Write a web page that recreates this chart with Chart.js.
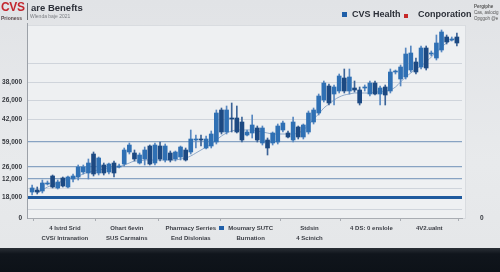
<!DOCTYPE html>
<html>
<head>
<meta charset="utf-8">
<script src="https://cdn.jsdelivr.net/npm/chart.js@4.4.1/dist/chart.umd.min.js"></script>
<style>
  html, body { margin: 0; padding: 0; }
  body {
    width: 500px; height: 272px; overflow: hidden; position: relative;
    background: linear-gradient(#e1e3e6, #e8eaec 60%, #e4e6e8);
    font-family: "Liberation Sans", Arial, sans-serif;
  }
  #wrap { position: absolute; left: 0; top: 0; width: 500px; height: 248px; }
  .band { position: absolute; left: 0; top: 248px; width: 500px; height: 24px;
    background: linear-gradient(#2a2f36, #10151c 25%, #0d1218); }
  .t { position: absolute; white-space: nowrap; font-weight: bold; }
  .sq { position: absolute; }
</style>
</head>
<body>
<div id="wrap"><canvas id="candleChart"></canvas></div>
<div class="band"></div>

<!-- header -->
<div class="t" style="left:1px;top:0px;font-size:12px;color:#c3262e;letter-spacing:-0.3px">CVS</div>
<div class="sq" style="left:27px;top:3px;width:1px;height:17px;background:#6b6f76"></div>
<div class="t" style="left:31px;top:2px;font-size:9.5px;color:#2b2f38">are Benefts</div>
<div class="t" style="left:1px;top:15px;font-size:5px;color:#5a4a4c">Prioness</div>
<div class="t" style="left:30px;top:13px;font-size:5px;color:#7a7d82;font-weight:normal">Wlenda baje 2021</div>

<!-- legend -->
<div class="sq" style="left:342px;top:12px;width:5px;height:5px;background:#1f5fa8"></div>
<div class="t" style="left:352px;top:9px;font-size:9px;color:#2b2f38">CVS Health</div>
<div class="sq" style="left:404px;top:14px;width:4px;height:4px;background:#c62828"></div>
<div class="t" style="left:418px;top:9px;font-size:9px;color:#2b2f38">Conporation</div>

<div class="t" style="left:474px;top:4px;font-size:4.5px;color:#555">Pergiphe</div>
<div class="t" style="left:474px;top:10px;font-size:4.5px;color:#555;font-weight:normal">Cas, aslocig</div>
<div class="t" style="left:474px;top:16px;font-size:4.5px;color:#555;font-weight:normal">Opggoh @e</div>

<!-- small marker in front of one x label -->
<div class="sq" style="left:219px;top:226px;width:5px;height:4px;background:#1f5fa8"></div>

<script>
// candle values (in axis units: 0 = bottom axis)
const opens  = [26,28,27,34,42,30,40,31,39,41,46,45,64,45,53,46,55,51,54,66,65,55,59,72,55,72,58,65,59,61,68,66,78,79,70,72,76,108,86,100,100,96,83,85,90,75,78,75,76,88,85,78,91,81,86,96,105,118,132,124,127,140,127,130,128,130,124,135,124,131,127,146,139,141,148,156,151,170,164,160,168,181,178,181];
const closes = [30,26,35,35,31,36,32,41,42,51,51,55,44,60,45,54,45,52,68,73,59,63,68,54,73,59,72,58,66,71,58,79,79,78,79,84,105,86,108,99,86,78,86,93,78,90,70,85,92,95,81,96,81,93,105,108,122,135,115,131,142,127,141,128,115,131,135,124,130,123,146,147,151,164,165,146,170,150,165,175,186,176,179,175];
const highs  = [33,31,38,37,43,38,41,42,44,53,53,59,66,61,55,55,57,54,70,75,68,65,71,73,75,76,74,67,67,72,70,88,83,83,82,87,108,110,112,115,112,101,88,103,92,92,80,86,94,97,87,101,92,94,107,110,124,137,134,133,144,149,149,137,131,133,137,137,132,133,149,148,153,170,172,160,172,172,167,183,188,183,181,185];
const lows   = [23,24,25,33,30,29,31,30,36,38,44,39,42,43,43,44,41,50,52,64,57,54,53,53,53,57,56,56,57,58,57,64,70,72,69,70,74,84,84,86,85,76,82,80,76,73,63,73,74,86,80,76,79,79,84,94,103,116,113,113,125,125,124,126,113,127,122,123,113,113,125,144,132,139,146,144,149,148,162,158,166,174,177,172];
// thin trend line
const trend = [null,25,28,31,33,35,37,39,40,42,44,46,47,48,49,50,50,51,53,55,57,57,58,58,58,58,58,58,58,59,60,62,65,68,71,74,78,82,85,87,88,88,88,88,87,86,85,84,84,84,84,84,85,88,93,99,104,110,114,118,121,123,124,125,125,125,125,126,126,127,128,131,136,141,145,149,152,156,161,166,171,175,178,180];

// y axis: odd tick labels as printed in the picture
const yTickValues = [0, 9, 21, 30, 39, 51, 76, 99, 118, 136, 155];
const yTickLabels = ["0", "", "18,000", "", "12,000", "26,000", "59,000", "42,000", "26,000", "38,000", ""];

// x axis labels
const xLabelPos = [6.4, 18.5, 31, 42.7, 54.2, 66.3, 77.6];
const xLabelsTop = ["4 Istrd Srid", "Ohart 6evin", "Pharmacy Serries", "Moumary SUTC", "Stdsin", "4 DS: 0 enslole", "4V2.ualnt"];
const xLabelsBottom = ["CVS/ Intranation", "SUS Carmains", "End Dislonias", "Burnation", "4 Scinich", "", ""];

const UP = "#2f70b4";
const DOWN = "#1c4982";
const isUp = (i) => closes[i] >= opens[i];

// light panel behind the plot
const panelBg = {
  id: "panelBg",
  beforeDraw(chart) {
    const { ctx, chartArea: a } = chart;
    ctx.save();
    ctx.fillStyle = "#eef0f2";
    ctx.fillRect(a.left, a.top + 2, a.right - a.left + 3, a.bottom - a.top - 2);
    ctx.strokeStyle = "#d9dce0";
    ctx.lineWidth = 1;
    ctx.strokeRect(a.left + 0.5, a.top + 2.5, a.right - a.left + 3, a.bottom - a.top - 2);
    ctx.restore();
  },
};

new Chart(document.getElementById("candleChart"), {
  type: "bar",
  data: {
    datasets: [
      {
        type: "line",
        label: "trend",
        data: trend.map((v, i) => ({ x: i, y: v })),
        borderColor: "#8ea9c9",
        borderWidth: 1,
        pointRadius: 0,
        tension: 0.35,
        spanGaps: true,
        order: 3,
      },
      {
        label: "wick",
        data: lows.map((l, i) => ({ x: i, y: [l, highs[i]] })),
        backgroundColor: (c) => (isUp(c.dataIndex) ? "#5787c0" : "#3b6397"),
        barThickness: 1,
        grouped: false,
        order: 2,
      },
      {
        label: "body",
        data: opens.map((o, i) => ({ x: i, y: [o, closes[i]] })),
        backgroundColor: (c) => (isUp(c.dataIndex) ? UP : DOWN),
        barThickness: 4,
        grouped: false,
        order: 1,
      },
    ],
  },
  options: {
    responsive: true,
    maintainAspectRatio: false,
    animation: false,
    layout: { padding: { top: 23, left: 0, right: 0, bottom: 0 } },
    plugins: { legend: { display: false }, tooltip: { enabled: false } },
    scales: {
      x: {
        type: "linear",
        offset: false,
        min: -1,
        max: 84,
        afterBuildTicks: (s) => { s.ticks = xLabelPos.map((v) => ({ value: v })); },
        afterFit: (s) => { s.height = 30; },
        ticks: {
          autoSkip: false,
          maxRotation: 0,
          padding: 3,
          color: "#3a3d44",
          font: { family: "Liberation Sans", size: 6, weight: "bold", lineHeight: 1.6 },
          callback: (v, i) => [xLabelsTop[i], xLabelsBottom[i]],
        },
        grid: { drawOnChartArea: false, tickLength: 3, color: "#a9adb3" },
        border: { color: "#a9adb3", width: 1 },
      },
      y: {
        min: 0,
        max: 195,
        afterBuildTicks: (s) => { s.ticks = yTickValues.map((v) => ({ value: v })); },
        afterFit: (s) => { s.width = 27; },
        ticks: {
          padding: 5,
          color: "#34373d",
          font: { family: "Liberation Sans", size: 6.5, weight: "bold" },
          callback: (v, i) => yTickLabels[i],
        },
        grid: {
          drawTicks: false,
          color: (c) => {
            const v = c.tick && c.tick.value;
            if (v === 0) return "rgba(0,0,0,0)";
            if (v === 21) return "#1f5a9e";
            if (v === 39 || v === 51 || v === 76) return "#88a3c3";
            return "#cfd4db";
          },
          lineWidth: (c) => {
            const v = c.tick && c.tick.value;
            if (v === 21) return 3;
            if (v === 39 || v === 51 || v === 76) return 1.2;
            return 1;
          },
        },
        border: { color: "#9ca1a8", width: 1 },
      },
      yRight: {
        position: "right",
        min: 0,
        max: 195,
        afterBuildTicks: (s) => { s.ticks = [{ value: 0 }]; },
        afterFit: (s) => { s.width = 38; },
        ticks: {
          padding: 10,
          color: "#34373d",
          font: { family: "Liberation Sans", size: 6.5, weight: "bold" },
          callback: () => "0",
        },
        grid: { display: false },
        border: { display: false },
      },
    },
  },
  plugins: [panelBg],
});
</script>
</body>
</html>
